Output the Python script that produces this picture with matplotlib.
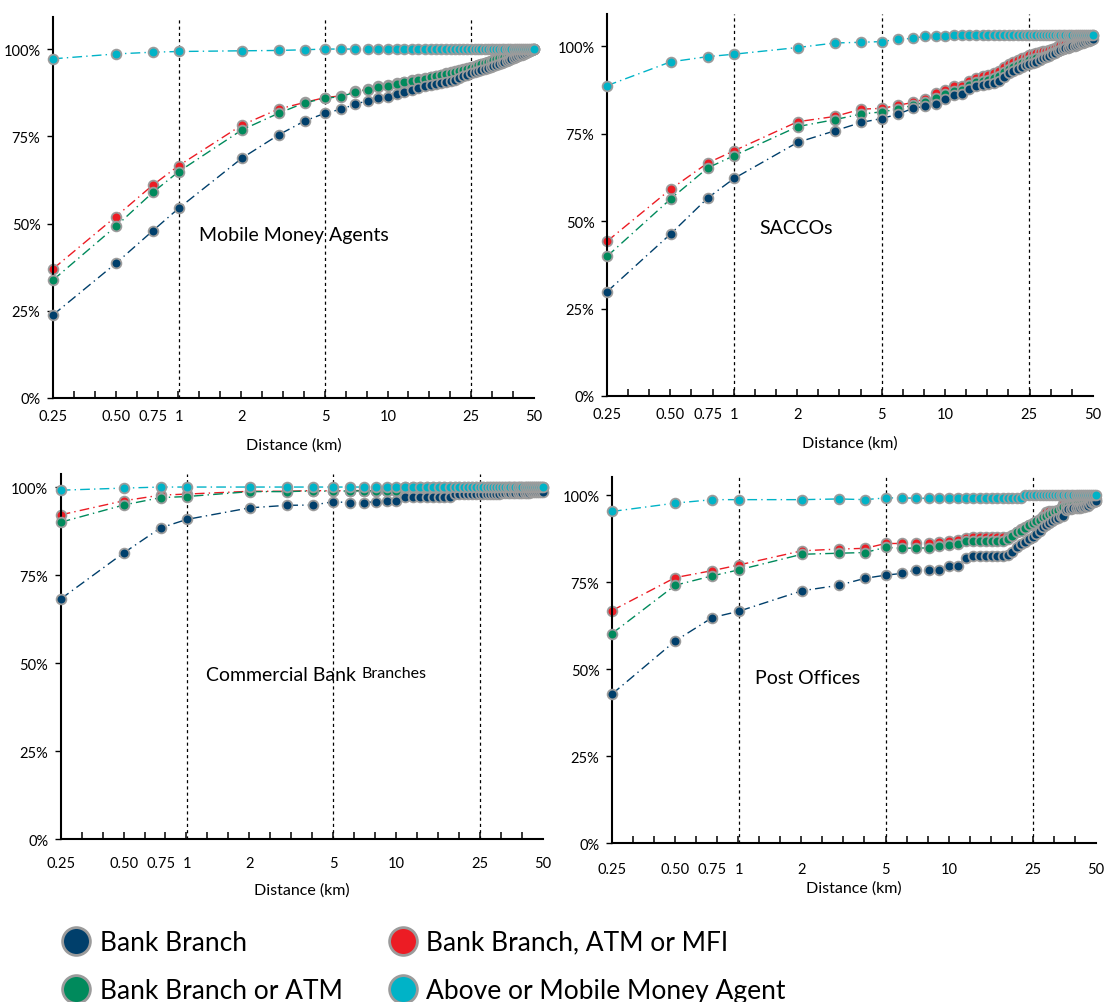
import matplotlib
matplotlib.use("Agg")
import matplotlib.pyplot as plt
import numpy as np
from matplotlib.lines import Line2D
from matplotlib.ticker import FixedLocator, NullFormatter

plt.rcParams['font.family'] = ['Lato', 'DejaVu Sans']

# distance grid (km)
distances = [0.25, 0.5, 0.75, 1, 2, 3, 4, 5, 6, 7, 8, 9, 10,
             11, 12, 13, 14, 15, 16, 17, 18, 19, 20,
             21, 22, 23, 24, 25, 26, 27, 28, 29, 30,
             31, 32, 33, 34, 35, 36, 37, 38, 39, 40,
             41, 42, 43, 44, 45, 46, 47, 48, 49, 50]

series_names = ['Bank Branch', 'Bank Branch or ATM',
                'Bank Branch, ATM or MFI', 'Above or Mobile Money Agent']
colors = ['#003f6b', '#008a5c', '#ec1c24', '#00b3c7']

xtick_vals = [0.25, 0.5, 0.75, 1, 2, 5, 10, 25, 50]
xtick_labels = ['0.25', '0.50', '0.75', '1', '2', '5', '10', '25', '50']
ytick_vals = [0, 25, 50, 75, 100]
ytick_labels = ['0%', '25%', '50%', '75%', '100%']
ref_lines = [1, 5, 25]

# ---- Mobile Money Agents (% of population within distance)
mma_bank = [23.8, 38.6, 47.9, 54.4, 68.7, 75.4, 79.4, 81.6, 82.8, 84.2, 85.2, 86.0, 86.4,
            87.1, 87.6, 88.3, 88.8, 89.3, 89.7, 90.0, 90.3, 90.5, 90.8,
            91.2, 91.7, 92.2, 92.6, 93.1, 93.4, 93.7, 94.0, 94.3, 94.6,
            94.9, 95.2, 95.5, 95.7, 96.0, 96.3, 96.6, 96.9, 97.2, 97.4,
            97.7, 97.9, 98.2, 98.4, 98.7, 98.9, 99.2, 99.5, 99.7, 100.0]
mma_atm = [33.8, 49.2, 58.9, 64.9, 76.8, 81.6, 84.6, 85.9, 86.4, 87.7, 88.3, 89.1, 89.5,
           90.1, 90.5, 90.9, 91.2, 91.5, 91.9, 92.2, 92.5, 92.9, 93.2,
           93.5, 93.8, 94.1, 94.4, 94.7, 95.0, 95.3, 95.6, 95.9, 96.2,
           96.5, 96.8, 97.1, 97.4, 97.6, 97.8, 98.0, 98.2, 98.4, 98.6,
           98.8, 98.9, 99.1, 99.2, 99.3, 99.4, 99.6, 99.7, 99.8, 100.0]
mma_mfi = [37.0, 52.0, 61.0, 66.6, 78.2, 82.8, 84.7, 86.1, 86.6, 87.9, 88.5, 89.3, 89.7,
           90.3, 90.7, 91.1, 91.4, 91.7, 92.1, 92.4, 92.7, 93.1, 93.4,
           93.7, 94.0, 94.3, 94.6, 94.9, 95.2, 95.5, 95.8, 96.1, 96.4,
           96.7, 97.0, 97.3, 97.6, 97.8, 98.0, 98.2, 98.4, 98.6, 98.8,
           99.0, 99.1, 99.3, 99.4, 99.5, 99.6, 99.7, 99.8, 99.9, 100.0]
mma_any = [97.2, 98.6, 99.1, 99.3, 99.5, 99.6, 99.8, 100.0, 100.0, 100.0, 100.0, 100.0, 100.0,
           100.0, 100.0, 100.0, 100.0, 100.0, 100.0, 100.0, 100.0, 100.0, 100.0,
           100.0, 100.0, 100.0, 100.0, 100.0, 100.0, 100.0, 100.0, 100.0, 100.0,
           100.0, 100.0, 100.0, 100.0, 100.0, 100.0, 100.0, 100.0, 100.0, 100.0,
           100.0, 100.0, 100.0, 100.0, 100.0, 100.0, 100.0, 100.0, 100.0, 100.0]

# ---- SACCOs
sac_bank = [29.8, 46.3, 56.6, 62.2, 72.5, 75.8, 78.2, 79.3, 80.6, 82.2, 82.8, 83.4, 85.0,
            86.0, 86.3, 87.7, 88.7, 89.0, 89.2, 89.4, 90.1, 91.3, 92.3,
            92.9, 93.4, 94.1, 94.6, 94.8, 95.2, 95.6, 96.0, 96.5, 96.9,
            97.3, 97.7, 98.1, 98.5, 98.9, 99.3, 99.4, 99.5, 99.7, 99.9,
            100.1, 100.3, 100.5, 100.8, 101.0, 101.2, 101.4, 101.5, 101.8, 102.0]
sac_atm = [39.9, 56.3, 65.2, 68.7, 77.0, 79.0, 80.6, 81.2, 82.0, 83.1, 83.9, 85.3, 86.3,
           87.2, 87.5, 88.9, 89.8, 90.1, 90.4, 90.8, 91.5, 92.5, 93.4,
           93.9, 94.6, 95.1, 95.5, 96.1, 96.3, 96.5, 96.7, 97.0, 97.2,
           97.6, 97.9, 98.2, 98.6, 98.9, 99.2, 99.5, 99.7, 100.0, 100.3,
           100.5, 100.8, 101.0, 101.3, 101.5, 101.8, 102.1, 102.4, 102.6, 102.9]
sac_mfi = [44.2, 59.1, 66.6, 70.1, 78.4, 79.9, 82.0, 82.2, 83.1, 83.9, 84.9, 86.6, 87.5,
           88.7, 88.7, 90.1, 91.0, 91.5, 91.7, 92.3, 92.9, 94.1, 95.0,
           95.5, 96.1, 96.6, 97.0, 97.4, 97.7, 98.0, 98.2, 98.5, 98.7,
           99.0, 99.3, 99.6, 99.9, 100.3, 100.5, 100.7, 100.9, 101.0, 101.2,
           101.4, 101.6, 101.8, 102.0, 102.3, 102.5, 102.7, 102.9, 103.0, 103.2]
sac_any = [88.7, 95.5, 97.0, 97.7, 99.6, 100.9, 101.1, 101.3, 102.0, 102.2, 102.8, 102.9, 102.9,
           103.1, 103.1, 103.1, 103.1, 103.1, 103.1, 103.1, 103.1, 103.1, 103.1,
           103.1, 103.1, 103.1, 103.1, 103.1, 103.1, 103.1, 103.1, 103.1, 103.1,
           103.1, 103.1, 103.1, 103.1, 103.1, 103.1, 103.1, 103.1, 103.1, 103.1,
           103.1, 103.1, 103.1, 103.1, 103.1, 103.1, 103.1, 103.1, 103.1, 103.1]

# ---- Commercial Bank Branches
cbb_bank = [68.2, 81.3, 88.4, 90.8, 94.1, 94.8, 94.9, 95.8, 95.6, 95.6, 95.8, 96.1, 96.1,
            97.2, 97.2, 97.1, 97.1, 97.1, 97.1, 97.1, 97.2, 97.9, 97.9,
            97.9, 98.0, 98.0, 98.0, 98.0, 98.0, 98.0, 98.1, 98.1, 98.1,
            98.1, 98.2, 98.2, 98.2, 98.2, 98.3, 98.3, 98.3, 98.3, 98.4,
            98.4, 98.4, 98.4, 98.5, 98.5, 98.5, 98.5, 98.6, 98.6, 98.6]
cbb_atm = [90.0, 94.9, 97.0, 97.3, 98.7, 98.7, 98.9, 98.8, 98.9, 98.9, 98.9, 98.9, 98.9,
           99.8, 99.8, 99.8, 99.8, 99.8, 99.8, 99.8, 99.8, 99.8, 99.8,
           99.8, 99.8, 99.8, 99.8, 99.8, 99.8, 99.8, 99.8, 99.8, 99.8,
           99.8, 99.8, 99.8, 99.8, 99.8, 99.8, 99.8, 99.8, 99.8, 99.8,
           99.8, 99.8, 99.8, 99.8, 99.8, 99.8, 99.8, 99.8, 99.8, 99.8]
cbb_mfi = [92.1, 96.1, 97.7, 98.0, 98.8, 98.8, 99.0, 98.9, 99.0, 99.0, 99.0, 99.0, 99.0,
           99.9, 99.9, 99.9, 99.9, 99.9, 99.9, 99.9, 99.9, 99.9, 99.9,
           99.9, 99.9, 99.9, 99.9, 99.9, 99.9, 99.9, 99.9, 99.9, 99.9,
           99.9, 99.9, 99.9, 99.9, 99.9, 99.9, 99.9, 99.9, 99.9, 99.9,
           99.9, 99.9, 99.9, 99.9, 99.9, 99.9, 99.9, 99.9, 99.9, 99.9]
cbb_any = [99.1, 99.7, 100.0, 100.0, 100.0, 100.0, 100.0, 100.0, 100.0, 100.0, 100.0, 100.0, 100.0,
           100.0, 100.0, 100.0, 100.0, 100.0, 100.0, 100.0, 100.0, 100.0, 100.0,
           100.0, 100.0, 100.0, 100.0, 100.0, 100.0, 100.0, 100.0, 100.0, 100.0,
           100.0, 100.0, 100.0, 100.0, 100.0, 100.0, 100.0, 100.0, 100.0, 100.0,
           100.0, 100.0, 100.0, 100.0, 100.0, 100.0, 100.0, 100.0, 100.0, 100.0]

# ---- Post Offices
po_bank = [42.8, 58.1, 64.8, 66.6, 72.5, 74.1, 76.1, 77.0, 77.5, 78.5, 78.5, 78.5, 79.5,
           79.5, 81.9, 82.6, 82.6, 82.6, 82.6, 82.6, 82.6, 82.8, 83.7,
           85.0, 85.9, 86.6, 87.4, 88.1, 88.8, 89.7, 90.7, 91.4, 92.1,
           92.5, 93.0, 93.5, 94.0, 94.1, 95.8, 96.0, 96.1, 96.2, 96.2,
           96.3, 96.4, 96.5, 96.6, 96.8, 97.0, 97.5, 98.0, 98.1, 98.2]
po_atm = [60.2, 74.1, 76.8, 78.5, 83.0, 83.3, 83.5, 85.0, 84.7, 84.8, 84.8, 85.5, 85.7,
          85.9, 86.7, 86.7, 86.7, 86.7, 86.7, 86.7, 86.7, 87.5, 88.2,
          89.3, 89.8, 90.6, 91.3, 92.1, 92.5, 92.9, 93.7, 94.1, 94.5,
          94.8, 95.3, 95.8, 96.2, 96.6, 96.8, 97.0, 97.2, 97.3, 97.4,
          97.6, 97.7, 97.8, 97.9, 98.0, 98.1, 98.2, 98.2, 98.3, 98.3]
po_mfi = [66.8, 76.3, 78.3, 79.9, 84.0, 84.5, 84.7, 86.1, 86.1, 86.1, 86.1, 86.6, 86.8,
          87.1, 87.8, 88.1, 88.1, 88.1, 88.1, 88.1, 88.1, 88.1, 88.5,
          89.5, 90.3, 90.8, 91.3, 91.8, 92.3, 93.1, 94.0, 95.2, 95.5,
          95.5, 95.5, 95.5, 95.5, 97.4, 97.7, 97.7, 97.7, 97.7, 97.8,
          97.8, 97.9, 98.0, 98.5, 98.7, 98.8, 98.8, 98.9, 98.9, 99.0]
po_any = [95.3, 97.7, 98.7, 98.7, 98.7, 98.9, 98.7, 99.2, 99.2, 99.1, 99.1, 99.1, 99.1,
          99.1, 99.1, 99.1, 99.1, 99.1, 99.1, 99.1, 99.1, 99.1, 99.1,
          99.1, 99.1, 100.0, 100.0, 100.0, 100.0, 100.0, 100.0, 100.0, 100.0,
          100.0, 100.0, 100.0, 100.0, 100.0, 100.0, 100.0, 100.0, 100.0, 100.0,
          100.0, 100.0, 100.0, 100.0, 100.0, 100.0, 100.0, 100.0, 100.0, 100.0]

panels = [
    # title, data, axes rect, ytop, title position (axes frac), tick pad, label pad
    ('Mobile Money Agents', [mma_bank, mma_atm, mma_mfi, mma_any],
     [0.0479, 0.6022, 0.4349, 0.3799], 109.2, (0.303, 0.428), 8, 10),
    ('SACCOs', [sac_bank, sac_atm, sac_mfi, sac_any],
     [0.5488, 0.6042, 0.4394, 0.3809], 109.2, (0.313, 0.442), 8, 10),
    ('Commercial Bank', [cbb_bank, cbb_atm, cbb_mfi, cbb_any],
     [0.0549, 0.1625, 0.4357, 0.3639], 103.7, (0.3015, 0.452), 12, 9),
    ('Post Offices', [po_bank, po_atm, po_mfi, po_any],
     [0.5533, 0.1585, 0.4376, 0.3649], 105.2, (0.2955, 0.451), 14, 3),
]

draw_order = [2, 1, 0, 3]  # red, green, navy, cyan on top

# small axis ticks spaced evenly along the log axis, as in the original
minor_ticks = np.geomspace(0.25, 50, 24)

fig = plt.figure(figsize=(11.06, 10.03), dpi=100)

for title, data, rect, ytop, tpos, tpad, lpad in panels:
    ax = fig.add_axes(rect)
    ax.set_xscale('log')
    ax.set_xlim(0.25, 50)
    ax.set_ylim(0, ytop)
    for v in ref_lines:
        ax.axvline(v, color='black', lw=0.9, ls=(0, (2.5, 2.5)), zorder=1)
    for k in draw_order:
        ax.plot(distances, data[k], color=colors[k], lw=1.0, ls=(0, (7, 3, 1, 3)),
                marker='o', ms=7, mfc=colors[k], mec='#9b9b9b', mew=1.3,
                zorder=2 + draw_order.index(k), clip_on=False)
    ax.xaxis.set_major_locator(FixedLocator(xtick_vals))
    ax.set_xticklabels(xtick_labels)
    ax.xaxis.set_minor_locator(FixedLocator(minor_ticks))
    ax.xaxis.set_minor_formatter(NullFormatter())
    ax.set_yticks(ytick_vals)
    ax.set_yticklabels(ytick_labels)
    ax.tick_params(axis='x', which='major', direction='in', length=0, labelsize=10.5,
                   pad=tpad)
    ax.tick_params(axis='x', which='minor', direction='in', length=5, width=1.1)
    ax.tick_params(axis='y', direction='out', length=4, width=1.0, labelsize=10.5, pad=5)
    for s in ['top', 'right']:
        ax.spines[s].set_visible(False)
    for s in ['left', 'bottom']:
        ax.spines[s].set_linewidth(1.5)
    ax.set_xlabel('Distance (km)', fontsize=11.5, labelpad=lpad)
    t = ax.text(tpos[0], tpos[1], title, transform=ax.transAxes, fontsize=14,
                ha='left', va='center')
    if title == 'Commercial Bank':
        ax.annotate('Branches', xy=(1, 0), xycoords=t, xytext=(4, 1.5),
                    textcoords='offset points', fontsize=11.5, ha='left', va='bottom')

handles = [Line2D([], [], ls='none', marker='o', ms=20, mfc=c, mec='#9b9b9b', mew=2)
           for c in colors]
leg_kw = dict(frameon=False, fontsize=19, handlelength=1.0, handletextpad=0.4,
              labelspacing=0.87, borderpad=0, borderaxespad=0)
fig.legend(handles[:2], series_names[:2], loc='upper left',
           bbox_to_anchor=(0.057, 0.072), **leg_kw)
fig.legend(handles[2:], series_names[2:], loc='upper left',
           bbox_to_anchor=(0.352, 0.072), **leg_kw)

fig.savefig('out.png', dpi=100)
